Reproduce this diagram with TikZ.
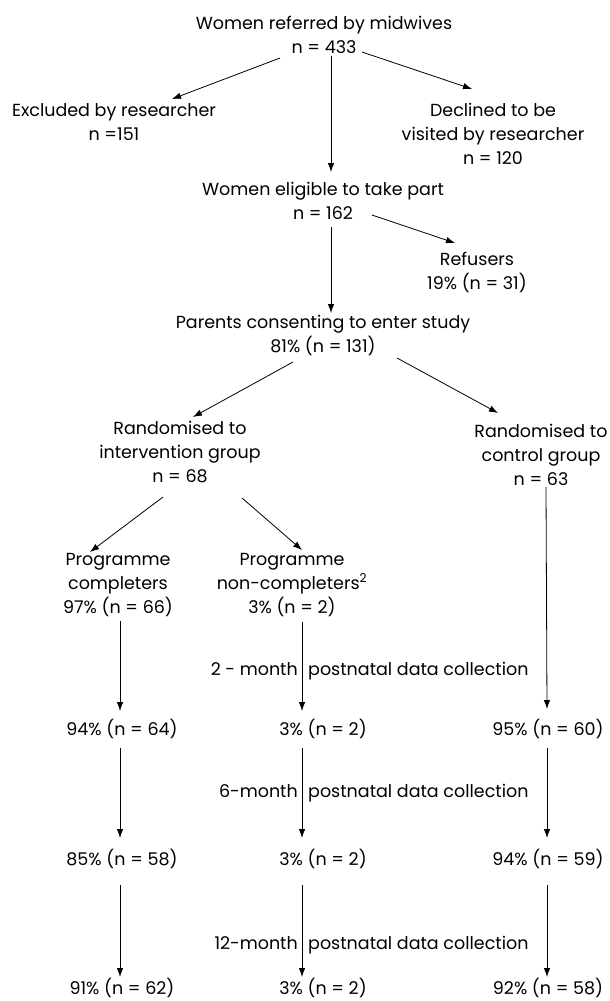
\documentclass[tikz,border=0pt]{standalone}
\usepackage{fontspec}
\setmainfont{Poppins}
\usetikzlibrary{arrows.meta}
\begin{document}
\begin{tikzpicture}[x=1pt,y=-1pt,
  every node/.style={align=center,inner sep=0pt,anchor=base,font=\fontsize{17.5}{24}\selectfont},
  arr/.style={-{Latex[length=9pt,width=6.5pt]},line width=0.8pt}]
\useasboundingbox (0,0) rectangle (610,1001);
\node (referred) at (324,53) {Women referred by midwives\\n = 433};
\node (excluded) at (114,140) {Excluded by researcher\\n =151};
\draw[arr] ([shift={(-44,5)}]referred.base)--([shift={(58,-41)}]excluded.base);
\node (declined) at (493,164) {Declined to be\\visited by researcher\\n = 120};
\draw[arr] ([shift={(38,-1)}]referred.base)--([shift={(-21,-75)}]declined.base);
\node (eligible) at (323,219) {Women eligible to take part\\n = 162};
\draw[arr] ([shift={(7,3)}]referred.base)--([shift={(8,-47)}]eligible.base);
\node (refusers) at (477,289) {Refusers\\19\% (n = 31)};
\draw[arr] ([shift={(49,-4)}]eligible.base)--([shift={(-22,-46)}]refusers.base);
\node (consenting) at (323,352) {Parents consenting to enter study\\81\% (n = 131)};
\draw[arr] ([shift={(8,8)}]eligible.base)--([shift={(8,-39)}]consenting.base);
\node (intervention) at (180,482) {Randomised to\\intervention group\\n = 68};
\draw[arr] ([shift={(-30,10)}]consenting.base)--([shift={(13,-65)}]intervention.base);
\node (control) at (541,485) {Randomised to\\control group\\n = 63};
\draw[arr] ([shift={(74,6)}]consenting.base)--([shift={(-43,-72)}]control.base);
\node (completers) at (118,613) {Programme\\completers\\97\% (n = 66)};
\draw[arr] ([shift={(-17,15)}]intervention.base)--([shift={(-28,-61)}]completers.base);
\node (noncompleters) at (292,613) {Programme\\non-completers\textsuperscript{2}\\3\% (n = 2)};
\draw[arr] ([shift={(62,16)}]intervention.base)--([shift={(10,-63)}]noncompleters.base);
\node[anchor=base east] (twomonth) at (298,675) {2 - month};
\node[anchor=base west] (twodata) at (308,675) {postnatal data collection};
\node (comptwo) at (122,735) {94\% (n = 64)};
\draw[arr] ([shift={(2,8)}]completers.base)--([shift={(-2,-24)}]comptwo.base);
\node (nontwo) at (323,735) {3\% (n = 2)};
\draw[arr] ([shift={(10,9)}]noncompleters.base)--([shift={(-21,-24)}]nontwo.base);
\node (ctrltwo) at (548,735) {95\% (n = 60)};
\draw[arr] ([shift={(5,2)}]control.base)--([shift={(-1,-26)}]ctrltwo.base);
\node[anchor=base east] (sixmonth) at (298,797) {6-month};
\node[anchor=base west] (sixdata) at (308,797) {postnatal data collection};
\node (compsix) at (122,865) {85\% (n = 58)};
\draw[arr] ([shift={(-2,13)}]comptwo.base)--([shift={(-2,-27)}]compsix.base);
\node (nonsix) at (323,865) {3\% (n = 2)};
\draw[arr] ([shift={(-21,13)}]nontwo.base)--([shift={(-21,-27)}]nonsix.base);
\node (ctrlsix) at (548,865) {94\% (n = 59)};
\draw[arr] ([shift={(-1,13)}]ctrltwo.base)--([shift={(-1,-27)}]ctrlsix.base);
\node[anchor=base east] (twelvemonth) at (298,949) {12-month};
\node[anchor=base west] (twelvedata) at (308,949) {postnatal data collection};
\node (comptwelve) at (122,994) {91\% (n = 62)};
\draw[arr] ([shift={(-2,20)}]compsix.base)--([shift={(-2,-17)}]comptwelve.base);
\node (nontwelve) at (323,994) {3\% (n = 2)};
\draw[arr] ([shift={(-21,20)}]nonsix.base)--([shift={(-21,-17)}]nontwelve.base);
\node (ctrltwelve) at (548,994) {92\% (n = 58)};
\draw[arr] ([shift={(-1,20)}]ctrlsix.base)--([shift={(-1,-17)}]ctrltwelve.base);
\end{tikzpicture}
\end{document}
